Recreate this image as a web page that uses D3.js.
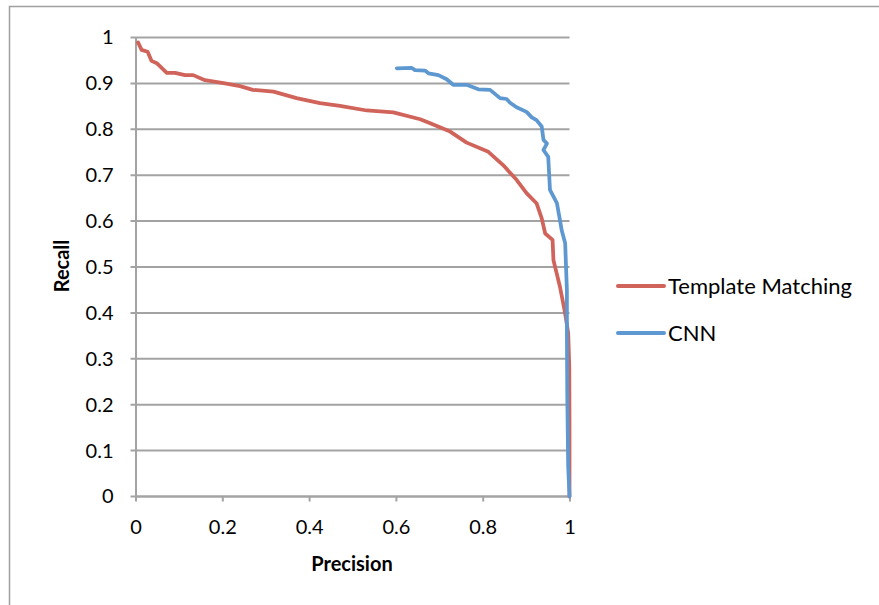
<!DOCTYPE html>
<html>
<head>
<meta charset="utf-8">
<script src="https://cdn.jsdelivr.net/npm/d3@7"></script>
<style>
  body { margin: 0; background: #fff; }
  text { font-family: Lato, "Liberation Sans", sans-serif; fill: #000; }
</style>
</head>
<body>
<div id="container"></div>
<script>
// precision / recall pairs
const templatePrecision = [0.006,0.014,0.028,0.037,0.049,0.072,0.091,0.114,0.133,0.160,0.206,0.241,0.270,0.318,0.371,0.425,0.471,0.533,0.594,0.656,0.679,0.725,0.763,0.813,0.847,0.878,0.901,0.924,0.936,0.944,0.961,0.963,0.978,0.990,0.997,0.9995,1.0,1.0]
const templateRecall    = [0.989,0.973,0.969,0.949,0.944,0.923,0.923,0.918,0.918,0.907,0.900,0.894,0.886,0.882,0.868,0.857,0.851,0.841,0.837,0.822,0.813,0.795,0.771,0.751,0.722,0.690,0.661,0.639,0.606,0.573,0.559,0.515,0.457,0.399,0.356,0.283,0.167,0.0]

const cnnPrecision = [0.602,0.636,0.644,0.667,0.675,0.698,0.717,0.732,0.763,0.790,0.817,0.840,0.855,0.863,0.878,0.901,0.913,0.924,0.936,0.940,0.948,0.940,0.951,0.955,0.971,0.978,0.982,0.990,0.994,0.994,0.995,0.997,1.0]
const cnnRecall    = [0.933,0.934,0.929,0.928,0.922,0.918,0.909,0.897,0.897,0.887,0.886,0.868,0.866,0.858,0.848,0.838,0.826,0.820,0.806,0.777,0.769,0.755,0.740,0.668,0.639,0.602,0.580,0.552,0.450,0.356,0.210,0.065,0.0]

const seriesNames = ["Template Matching","CNN"]
const seriesColors = ["#d0635a","#5e98d0"]

const xTicks = [0,0.2,0.4,0.6,0.8,1]
const yTicks = [0,0.1,0.2,0.3,0.4,0.5,0.6,0.7,0.8,0.9,1]

const width = 879
const height = 605
const plotLeft = 135.5, plotRight = 569.5, plotTop = 37.5, plotBottom = 496.5

const series = [
  templatePrecision.map((p,i)=>({p, r: templateRecall[i]})),
  cnnPrecision.map((p,i)=>({p, r: cnnRecall[i]}))
]

const svg = d3.select("#container").append("svg")
              .attr("width",width)
              .attr("height",height)

// outer frame (cut off at right and bottom)
svg.append("rect")
   .attr("x",9.5).attr("y",6.5)
   .attr("width",1000).attr("height",1000)
   .attr("fill","none")
   .attr("stroke","#a0a0a0")
   .attr("stroke-width",1.5)

const xScale = d3.scaleLinear().domain([0,1]).range([plotLeft,plotRight])
const yScale = d3.scaleLinear().domain([0,1]).range([plotBottom,plotTop])

// gridlines
svg.append("g")
   .selectAll("line")
   .data(yTicks)
   .enter()
   .append("line")
   .attr("x1",plotLeft - 5).attr("x2",plotRight)
   .attr("y1",d=>yScale(d)).attr("y2",d=>yScale(d))
   .attr("stroke","#a3a3a3")
   .attr("stroke-width",2)

/*axes*/
const xAxis = d3.axisBottom(xScale)
                .tickValues(xTicks)
                .tickSize(5)
                .tickPadding(18)
                .tickFormat(d=>d3.format("")(d))
const yAxis = d3.axisLeft(yScale)
                .tickValues(yTicks)
                .tickSize(0)
                .tickPadding(22)
                .tickFormat(d=>d3.format("")(d))

const gx = svg.append("g")
   .attr("id","x-axis")
   .attr("transform",`translate(0, ${plotBottom})`)
   .call(xAxis)
const gy = svg.append("g")
   .attr("id","y-axis")
   .attr("transform",`translate(${plotLeft}, 0)`)
   .call(yAxis)

;[gx,gy].forEach(g=>{
  g.select(".domain").attr("stroke","#a3a3a3").attr("stroke-width",2)
  g.selectAll(".tick line").attr("stroke","#a3a3a3").attr("stroke-width",2)
  g.selectAll(".tick text")
   .style("font-family","Lato, sans-serif")
   .style("font-size","20px")
   .attr("fill","#000")
})
gx.select(".domain").attr("d",`M${plotLeft},0H${plotRight}`)

// curves
const line = d3.line()
               .x(d=>xScale(d.p))
               .y(d=>yScale(d.r))

svg.selectAll("path.series")
   .data(series)
   .enter()
   .append("path")
   .attr("class","series")
   .attr("d",line)
   .attr("fill","none")
   .attr("stroke",(_,i)=>seriesColors[i])
   .attr("stroke-width",3.75)
   .attr("stroke-linejoin","round")
   .attr("stroke-linecap","round")

// axis titles
svg.append("text")
   .attr("x",352).attr("y",571)
   .attr("text-anchor","middle")
   .style("font-size","20px")
   .style("font-weight","bold")
   .text("Precision")

svg.append("text")
   .attr("transform","translate(69,266) rotate(-90)")
   .attr("text-anchor","middle")
   .style("font-size","20px")
   .style("font-weight","bold")
   .text("Recall")

/*legend*/
const legend = svg.append("g")
   .selectAll("g")
   .data(seriesNames)
   .enter()
   .append("g")
   .attr("transform",(_,i)=>`translate(618, ${286 + i*47})`)

legend.append("line")
   .attr("x1",0).attr("x2",46)
   .attr("y1",0).attr("y2",0)
   .attr("stroke",(_,i)=>seriesColors[i])
   .attr("stroke-width",4)
   .attr("stroke-linecap","round")

legend.append("text")
   .attr("x",50).attr("y",8)
   .style("font-size","22px")
   .text(d=>d)
</script>
</body>
</html>
